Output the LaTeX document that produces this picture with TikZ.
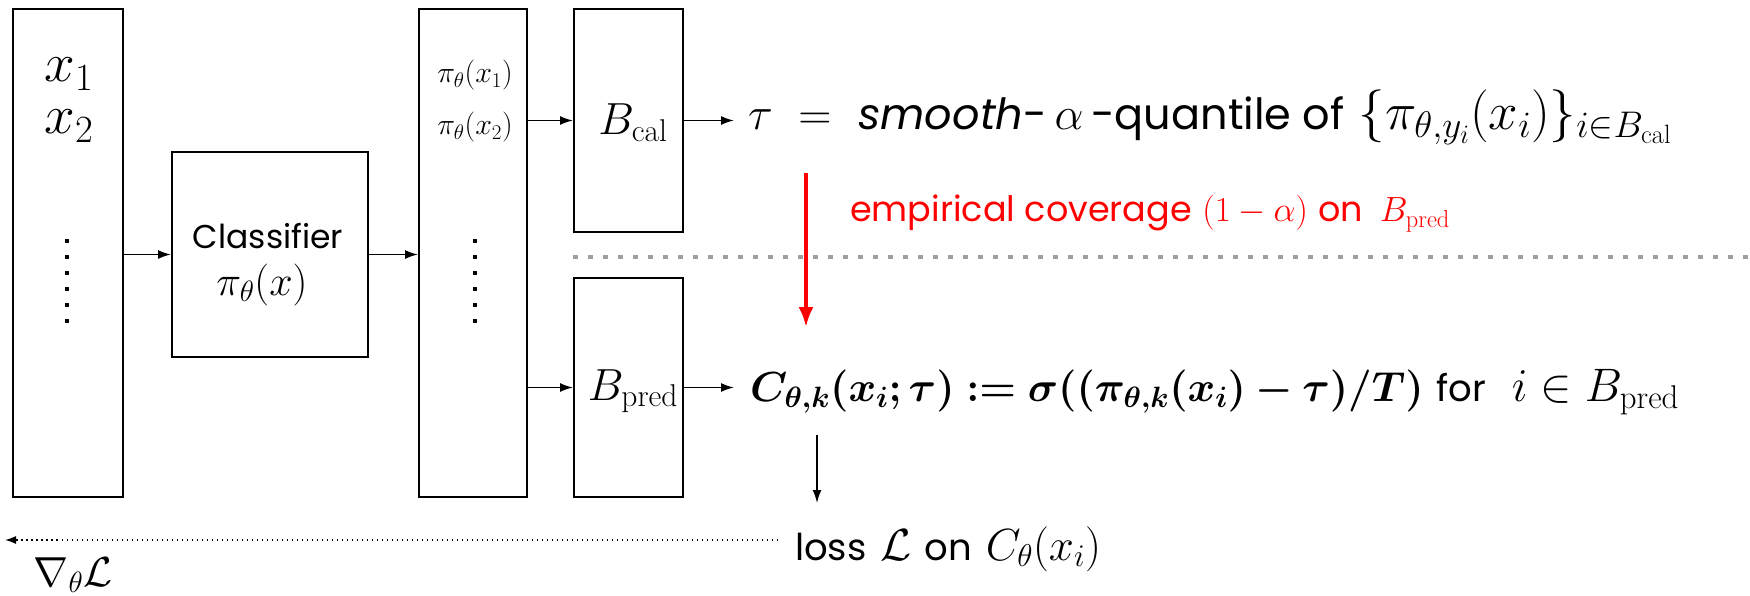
\RequirePackage{fix-cm}
\documentclass[tikz,border=0pt]{standalone}
\usepackage{amsmath}
\usepackage{bm}
\usepackage{fontspec}
\newfontfamily\gsans{Poppins}
\usetikzlibrary{arrows.meta}

\newcommand{\fs}[1]{\fontsize{#1}{1.2\dimexpr#1pt\relax}\selectfont}

\begin{document}
\begin{tikzpicture}[x=1pt, y=-1pt,
    box/.style={draw, line width=2pt, inner sep=0pt},
    arr/.style={-{Latex[length=13pt, width=9pt]}, line width=1.6pt},
    redarr/.style={-{Latex[length=20pt, width=15pt]}, line width=3.5pt, red},
    backarr/.style={-{Latex[length=11pt, width=8pt]}, line width=1.5pt, dash pattern=on 1.5pt off 3.5pt},
    vdots/.style={line width=4pt, dash pattern=on 4pt off 12pt},
    graydots/.style={line width=4pt, gray!75, dash pattern=on 5pt off 10pt},
    txt/.style={inner sep=0pt, anchor=base}]
  \useasboundingbox (0,0) rectangle (1750,596);

  % boxes
  \node[box, minimum width=110pt, minimum height=488pt] (inbox) at (68,253) {};
  \node[box, minimum width=196pt, minimum height=205pt] (clf) at (270,254.5) {};
  \node[box, minimum width=108pt, minimum height=488pt] (probs) at (473,253) {};
  \node[box, minimum width=109pt, minimum height=223pt] (bcal) at (628.5,120.5) {};
  \node[box, minimum width=109pt, minimum height=219pt] (bpred) at (628.5,387.5) {};

  % box contents
  \node[txt, font=\fs{55}] (x1) at (69,82) {$x_1$};
  \node[txt, font=\fs{55}] (x2) at (69,134) {$x_2$};
  \draw[vdots] (67,239) -- (67,323);
  \node[txt, font=\fs{30}] (p1) at (475,83) {$\pi_\theta(x_1)$};
  \node[txt, font=\fs{30}] (p2) at (475,135) {$\pi_\theta(x_2)$};
  \draw[vdots] (475,239) -- (475,323);
  \node[txt, font=\gsans\fs{33}] (clfname) at (268,248) {Classifier};
  \node[txt, font=\fs{42}] (clfpi) at (262,295) {$\pi_\theta(x)$};
  \node[txt, font=\fs{45}] (bcalname) at (633,135) {$B_{\mathrm{cal}}$};
  \node[txt, font=\fs{45}] (bpredname) at (633,400) {$B_{\mathrm{pred}}$};

  % formulas
  \node[txt, anchor=base west, font=\fs{46}] (tau) at (748,130)
    {$\tau\;=\;$ {\gsans\fs{43}\itshape smooth}{\gsans\fs{43}-}$\,\alpha\,${\gsans\fs{43}-quantile of} {\fs{53}$\{\pi_{\theta,y_i}(x_i)\}_{i\in B_{\mathrm{cal}}}$}};
  \node[txt, anchor=base west, font=\fs{35}, text=red] (cover) at (850,222)
    {{\gsans\fs{35}empirical coverage} $(1-\alpha)$ {\gsans\fs{35}on} $\,B_{\mathrm{pred}}$};
  \node[txt, anchor=base west, font=\fs{47}] (cform) at (750,401)
    {\fs{42}$\bm{C_{\theta,k}(x_i;\tau) := \sigma((\pi_{\theta,k}(x_i)-\tau)/T)}$ {\gsans\fs{37}for} {\fs{47}$\;i\in B_{\mathrm{pred}}$}};
  \node[txt, anchor=base west, font=\fs{45}] (loss) at (795,560)
    {{\gsans\fs{37}loss} $\mathcal{L}$ {\gsans\fs{37}on} $C_\theta(x_i)$};
  \node[txt, font=\fs{42}] (grad) at (73,586) {$\nabla_\theta\mathcal{L}$};

  % connectors
  \draw[arr] (inbox.east |- clf.west) -- (clf.west);
  \draw[arr] (clf.east) -- (clf.east -| probs.west);
  \draw[arr] (probs.east |- bcal.west) -- (bcal.west);
  \draw[arr] (probs.east |- bpred.west) -- (bpred.west);
  \draw[arr] (bcal.east) -- ++(50,0) coordinate (tautip);
  \draw[arr] (bpred.east) -- ++(50,0) coordinate (ctip);

  \coordinate (covtop) at (806,173);
  \coordinate (covbot) at (806,327);
  \draw[redarr] (covtop) -- (covbot);

  \draw[graydots] (bcal.west |- 0,257) -- (1750,257);

  \coordinate (dntop) at (817,435);
  \coordinate (dnbot) at (817,503);
  \draw[arr] (dntop) -- (dnbot);

  \coordinate (gradtip) at (5,540);
  \draw[backarr] ([xshift=-17pt]loss.west |- gradtip) -- (gradtip);
\end{tikzpicture}
\end{document}
